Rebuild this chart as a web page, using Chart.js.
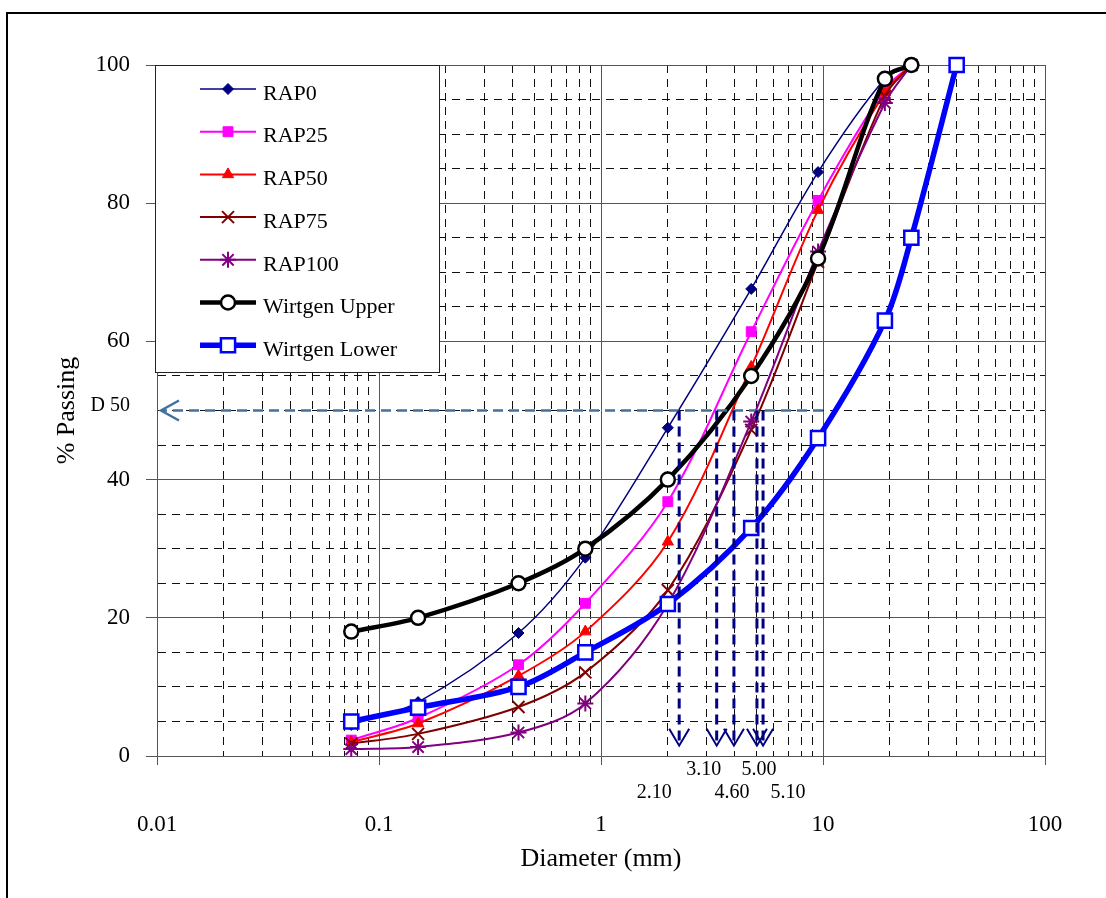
<!DOCTYPE html>
<html>
<head>
<meta charset="utf-8">
<script src="https://cdn.jsdelivr.net/npm/chart.js@4/dist/chart.umd.min.js"></script>
<style>
  html, body { margin: 0; padding: 0; background: #fff; }
  #wrap { width: 1106px; height: 898px; }
</style>
</head>
<body>
<div id="wrap"><canvas id="chart" width="1106" height="898"></canvas></div>
<script>
// sieve sizes (mm)
const sizes = [0.075, 0.15, 0.425, 0.85, 2.0, 4.75, 9.5, 19, 25];
const lowerSizes = [0.075, 0.15, 0.425, 0.85, 2.0, 4.75, 9.5, 19, 25, 40];

// % passing
const rap0   = [4.5, 7.8, 17.8, 28.7, 47.5, 67.6, 84.5, 98, 100];
const rap25  = [2.3, 5.5, 13.2, 22.1, 36.8, 61.4, 80.4, 96.5, 100];
const rap50  = [2.0, 4.7, 11.6, 18.0, 31.0, 56.3, 79.0, 96, 100];
const rap75  = [1.8, 3.2, 7.1, 12.1, 24.0, 47.2, 71.5, 95.5, 100];
const rap100 = [1.0, 1.3, 3.4, 7.6, 22.0, 48.4, 73.0, 94.5, 100];
const upper  = [18, 20, 25, 30, 40, 55, 72, 98, 100];
const lower  = [5, 7, 10, 15, 22, 33, 46, 63, 75, 100];

// D50 marks
const d50Level = 50;
const d50From = 10;
const arrowSizes = [2.25, 3.32, 3.97, 5.04, 5.37];
const arrowLabels = ["2.10", "3.10", "4.60", "5.00", "5.10"];
const arrowTip = 1.5;

// axes
const xDecades = [0.01, 0.1, 1, 10, 100];
const yMajor = [0, 20, 40, 60, 80, 100];

const FONT = "'Liberation Serif', 'Times New Roman', serif";

const xGrid = [];
xDecades.forEach((d, i) => {
  for (let k = 1; k <= 9; k++) {
    if (i === xDecades.length - 1 && k > 1) break;
    xGrid.push(+(d * k).toPrecision(6));
  }
});
const isDecade = v => xDecades.some(d => Math.abs(d - v) < d * 1e-6);

function pts(xs, ys) { return xs.map((x, i) => ({ x, y: ys[i] })); }

function series(label, xs, ys, color, style, opts) {
  return Object.assign({
    label,
    data: pts(xs, ys),
    borderColor: color,
    backgroundColor: color,
    pointBackgroundColor: color,
    pointBorderColor: color,
    pointStyle: style,
    borderWidth: 2,
    pointBorderWidth: 1,
    pointRadius: 5,
    tension: 0.33,
    clip: false
  }, opts || {});
}

const datasets = [
  series("RAP0", sizes, rap0, "#000080", "rectRot", { borderWidth: 1.5, pointRadius: 5.5, order: 6 }),
  series("RAP25", sizes, rap25, "#FF00FF", "rect", { pointRadius: 7, order: 5 }),
  series("RAP50", sizes, rap50, "#FF0000", "triangle", { pointRadius: 6.5, order: 4 }),
  series("RAP75", sizes, rap75, "#800000", "crossRot", { pointRadius: 8.5, pointBorderWidth: 2, order: 3 }),
  series("RAP100", sizes, rap100, "#800080", "star", { pointRadius: 8, pointBorderWidth: 2, order: 2 }),
  series("Wirtgen Upper", sizes, upper, "#000000", "circle", {
    borderWidth: 4.5, pointRadius: 7, pointBorderWidth: 2.5, pointBackgroundColor: "#ffffff", order: 1
  }),
  series("Wirtgen Lower", lowerSizes, lower, "#0000FF", "rect", {
    borderWidth: 5.5, pointRadius: 10, pointBorderWidth: 2.5, pointBackgroundColor: "#ffffff", order: 0
  })
];

// outer frame
const framePlugin = {
  id: "frame",
  beforeDraw(chart) {
    const c = chart.ctx;
    c.save();
    c.fillStyle = "#fff";
    c.fillRect(0, 0, chart.width, chart.height);
    c.strokeStyle = "#000";
    c.lineWidth = 2;
    c.strokeRect(7, 13, 1200, 1000);
    c.restore();
  }
};

// D50 dashed arrows and labels
const d50Plugin = {
  id: "d50",
  afterDatasetsDraw(chart) {
    const c = chart.ctx, xs = chart.scales.x, ys = chart.scales.y;
    const y50 = ys.getPixelForValue(d50Level);
    const xl = xs.left + 4;
    c.save();
    // horizontal line to the y axis
    c.strokeStyle = "#44709D";
    c.lineWidth = 2.5;
    c.setLineDash([10, 6]);
    c.beginPath();
    c.moveTo(xs.getPixelForValue(d50From), y50);
    c.lineTo(xl, y50);
    c.stroke();
    c.setLineDash([]);
    c.beginPath();
    c.moveTo(xl + 18, y50 - 10);
    c.lineTo(xl, y50);
    c.lineTo(xl + 18, y50 + 10);
    c.stroke();
    c.fillStyle = "#000";
    c.font = "20px " + FONT;
    c.textAlign = "right";
    c.textBaseline = "middle";
    c.fillText("D 50", 130, y50 - 5);

    // vertical arrows
    const yTip = ys.getPixelForValue(arrowTip);
    const labelDx = [-25, -13, -2, 2, 25];
    const labelDy = [47, 24, 47, 24, 47];
    arrowSizes.forEach((v, i) => {
      const x = xs.getPixelForValue(v);
      c.strokeStyle = "#000080";
      c.lineWidth = 3;
      c.setLineDash([10, 6]);
      c.beginPath();
      c.moveTo(x, y50);
      c.lineTo(x, yTip - 2);
      c.stroke();
      c.setLineDash([]);
      c.lineWidth = 2;
      c.beginPath();
      c.moveTo(x - 10, yTip - 17);
      c.lineTo(x, yTip);
      c.lineTo(x + 10, yTip - 17);
      c.stroke();
      c.fillStyle = "#000";
      c.textAlign = "center";
      c.fillText(arrowLabels[i], x + labelDx[i], ys.bottom + labelDy[i] - 10);
    });
    c.restore();
  }
};

// boxed legend in the top-left corner of the plot
const legendPlugin = {
  id: "boxLegend",
  afterDraw(chart) {
    const c = chart.ctx;
    const left = 155, top = 65, w = 284, h = 307;
    c.save();
    c.fillStyle = "#fff";
    c.fillRect(left, top, w, h);
    c.strokeStyle = "#222";
    c.lineWidth = 1;
    c.strokeRect(left + 0.5, top + 0.5, w, h);
    const draw = Chart.helpers && Chart.helpers.drawPoint;
    chart.data.datasets.forEach((ds, i) => {
      const y = 89 + i * 42.7;
      c.strokeStyle = ds.borderColor;
      c.lineWidth = ds.borderWidth;
      c.beginPath();
      c.moveTo(200, y);
      c.lineTo(256, y);
      c.stroke();
      c.fillStyle = ds.pointBackgroundColor;
      c.strokeStyle = ds.pointBorderColor;
      c.lineWidth = ds.pointBorderWidth;
      if (draw) {
        draw(c, { pointStyle: ds.pointStyle, radius: ds.pointRadius, borderWidth: ds.pointBorderWidth, rotation: 0 }, 228, y);
      }
      c.fillStyle = "#000";
      c.font = "22px " + FONT;
      c.textAlign = "left";
      c.textBaseline = "middle";
      c.fillText(ds.label, 263, y + 5);
    });
    c.restore();
  }
};

new Chart(document.getElementById("chart"), {
  type: "line",
  data: { datasets },
  plugins: [framePlugin, d50Plugin, legendPlugin],
  options: {
    responsive: false,
    animation: false,
    layout: { padding: { left: 8, right: 61, top: 65, bottom: 0 } },
    plugins: { legend: { display: false }, tooltip: { enabled: false } },
    scales: {
      x: {
        type: "logarithmic",
        min: 0.01,
        max: 100,
        afterBuildTicks: s => { s.ticks = xGrid.map(v => ({ value: v })); },
        afterFit: s => { s.height = 142; s.paddingLeft = 0; s.paddingRight = 0; },
        ticks: {
          autoSkip: false,
          maxRotation: 0,
          padding: 46,
          color: "#000",
          font: { family: FONT, size: 23 },
          callback: v => isDecade(v) ? String(+v.toPrecision(3)) : ""
        },
        grid: {
          color: c => isDecade(c.tick.value) ? "#555" : "#111",
          tickColor: c => isDecade(c.tick.value) ? "#555" : "rgba(0,0,0,0)",
          tickLength: 9,
          lineWidth: 1
        },
        border: {
          color: "#555",
          dash: c => (c.tick && !isDecade(c.tick.value)) ? [8, 6] : []
        },
        title: {
          display: true,
          text: "Diameter (mm)",
          color: "#000",
          font: { family: FONT, size: 26 },
          padding: { top: 0, bottom: 23 }
        }
      },
      y: {
        min: 0,
        max: 100,
        afterFit: s => { s.width = 149; },
        ticks: {
          stepSize: 5,
          autoSkip: false,
          padding: 16,
          color: "#000",
          font: { family: FONT, size: 23 },
          callback: v => yMajor.includes(v) ? String(v) : ""
        },
        grid: {
          color: c => yMajor.includes(c.tick.value) ? "#555" : "#111",
          tickColor: c => yMajor.includes(c.tick.value) ? "#555" : "rgba(0,0,0,0)",
          tickLength: 11,
          lineWidth: 1
        },
        border: {
          color: "#555",
          dash: c => (c.tick && !yMajor.includes(c.tick.value)) ? [8, 6] : []
        },
        title: {
          display: true,
          text: "% Passing",
          color: "#000",
          font: { family: FONT, size: 26 },
          padding: { top: 44, bottom: 0 }
        }
      }
    }
  }
});
</script>
</body>
</html>
